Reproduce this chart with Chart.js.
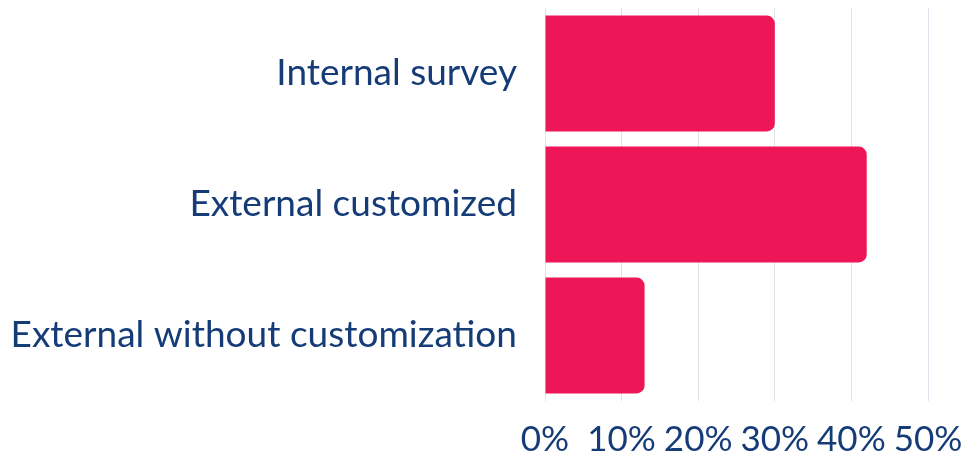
<!DOCTYPE html>
<html>
<head>
<meta charset="utf-8">
<script src="https://cdn.jsdelivr.net/npm/chart.js@4/dist/chart.umd.min.js"></script>
<style>
  html, body { margin: 0; padding: 0; background: #ffffff; }
  #wrap { width: 977px; height: 457px; }
</style>
</head>
<body>
<div id="wrap"><canvas id="surveyChart"></canvas></div>
<script>
// Survey type shares (percent)
const categories = ["Internal survey", "External customized", "External without customization"];
const shares = [30, 42, 13];
const xTicks = [0, 10, 20, 30, 40, 50];

const labelColor = "#163c78";
const barColor = "#ee1657";
const gridColor = "#dde3eb";

const ctx = document.getElementById("surveyChart").getContext("2d");
new Chart(ctx, {
  type: "bar",
  data: {
    labels: categories,
    datasets: [
      {
        data: shares,
        backgroundColor: barColor,
        borderRadius: 8,
        borderSkipped: "start",
        barPercentage: 0.885,
        categoryPercentage: 1,
      },
    ],
  },
  options: {
    indexAxis: "y",
    responsive: true,
    maintainAspectRatio: false,
    animation: false,
    layout: { padding: { top: 8, left: 13, right: 49, bottom: 0 } },
    scales: {
      x: {
        min: 0,
        max: 50,
        afterBuildTicks: (axis) => {
          axis.ticks = xTicks.map((v) => ({ value: v }));
        },
        afterFit: (axis) => {
          axis.height = 56;
          axis.paddingLeft = 0;
          axis.paddingRight = 0;
        },
        border: { display: false },
        grid: { color: gridColor, lineWidth: 1, drawTicks: false },
        ticks: {
          color: labelColor,
          padding: 18,
          maxRotation: 0,
          autoSkip: false,
          font: { family: "Lato", size: 35 },
          callback: (v) => v + "%",
        },
      },
      y: {
        afterFit: (axis) => {
          // long category names need more than half the width
          axis.width = 532;
          axis.paddingTop = 0;
          axis.paddingBottom = 0;
        },
        border: { display: false },
        grid: { display: false, drawTicks: false },
        ticks: {
          color: labelColor,
          padding: 28,
          font: { family: "Lato", size: 37 },
        },
      },
    },
    plugins: {
      legend: { display: false },
      tooltip: { enabled: false },
    },
  },
});
</script>
</body>
</html>
